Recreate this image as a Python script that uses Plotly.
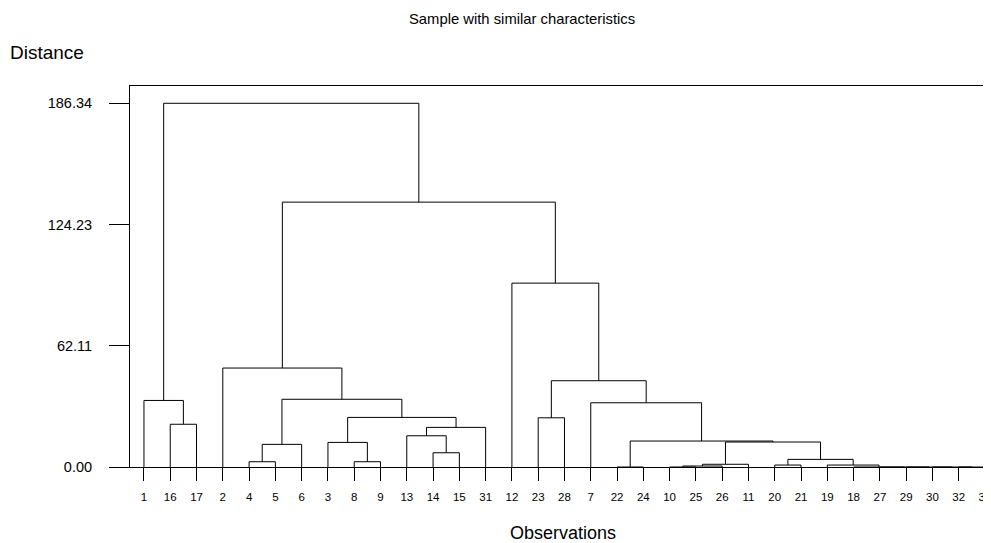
import plotly.graph_objects as go

# ---- data ----
leaf_order = ["1", "16", "17", "2", "4", "5", "6", "3", "8", "9", "13", "14", "15", "31",
              "12", "23", "28", "7", "22", "24", "10", "25", "26", "11", "20", "21", "19",
              "18", "27", "29", "30", "32", "33"]

# merges: node n<i> joins merge_left[i] and merge_right[i] at merge_height[i]
merge_left = ["16", "1", "4", "n2", "8", "3", "14", "13", "n7", "n5", "n3", "2",
              "23", "22", "10", "n14", "n15", "20", "32", "30", "29", "27", "18", "19",
              "n17", "n16", "n13", "7", "n12", "12", "n11", "n1"]
merge_right = ["17", "n0", "5", "6", "9", "n4", "15", "n6", "31", "n8", "n9", "n10",
               "28", "24", "25", "26", "11", "21", "33", "n18", "n19", "n20", "n21", "n22",
               "n23", "n24", "n25", "n26", "n27", "n28", "n29", "n30"]
merge_height = [21.9, 34.1, 2.7, 11.6, 2.7, 12.6, 7.3, 16.0, 20.3, 25.4, 34.7, 50.7,
                25.2, 0.0, 0.0, 0.5, 1.4, 1.0, 0.0, 0.0, 0.0, 0.0, 0.0, 1.0,
                3.9, 12.8, 13.3, 32.9, 44.2, 94.2, 135.7, 186.34]

y_tick_values = [0.00, 62.11, 124.23, 186.34]

title_text = "Sample with similar characteristics"
y_title = "Distance"
x_title = "Observations"

# ---- build dendrogram geometry from the tree ----
pos = {lab: i + 1 for i, lab in enumerate(leaf_order)}
hgt = {lab: 0.0 for lab in leaf_order}
xs, ys = [], []
for i, (a, b, h) in enumerate(zip(merge_left, merge_right, merge_height)):
    xa, xb = pos[a], pos[b]
    ha, hb = hgt[a], hgt[b]
    xs += [xa, xa, xb, xb, None]
    ys += [ha, h, h, hb, None]
    pos["n%d" % i] = (xa + xb) / 2.0
    hgt["n%d" % i] = h

FONT = "Liberation Sans, Arial, sans-serif"

# page has an 8px body margin: position everything relative to that
OFF = 8
PL, PT, PH = 130 - OFF, 86 - OFF, 381
W, H = 991 - OFF, 543 - OFF

fig = go.Figure()
fig.add_trace(go.Scatter(x=xs, y=ys, mode="lines",
                         line=dict(color="#000000", width=1),
                         hoverinfo="skip", showlegend=False, cliponaxis=False))

fig.update_layout(
    width=W, height=H,
    margin=dict(l=PL, r=0, t=PT, b=H - PT - PH, pad=0),
    paper_bgcolor="white", plot_bgcolor="white",
    font=dict(family=FONT, color="#000000"),
    showlegend=False,
)

fig.update_xaxes(
    range=[0.469, 33.114],
    tickmode="array",
    tickvals=list(range(1, len(leaf_order) + 1)),
    ticktext=leaf_order,
    ticks="outside", ticklen=13, tickwidth=1, tickcolor="#000000",
    tickfont=dict(size=11.5, family=FONT),
    ticklabelstandoff=6,
    ticklabeloverflow="allow",
    showline=True, linecolor="#000000", linewidth=1, mirror=True,
    showgrid=False, zeroline=False,
)

fig.update_yaxes(
    range=[0, 195.2],
    tickmode="array",
    tickvals=y_tick_values,
    ticktext=["%.2f" % v for v in y_tick_values],
    ticks="outside", ticklen=20, tickwidth=1, tickcolor="#000000",
    tickfont=dict(size=14.5, family=FONT),
    ticklabelstandoff=14,
    showline=True, linecolor="#000000", linewidth=1, mirror=False,
    showgrid=False, zeroline=False,
)

pw = 861.0
fig.add_annotation(text=title_text, xref="paper", yref="paper",
                   x=(523 - 130) / pw, y=(467 - 19.5) / PH,
                   xanchor="center", yanchor="middle", showarrow=False,
                   font=dict(size=14.8, family=FONT, color="#000000"))
fig.add_annotation(text=y_title, xref="paper", yref="paper",
                   x=(8 - 130) / pw, y=(467 - 52) / PH,
                   xanchor="left", yanchor="middle", showarrow=False,
                   font=dict(size=19, family=FONT, color="#000000"))
fig.add_annotation(text=x_title, xref="paper", yref="paper",
                   x=(565 - 130) / pw, y=(467 - 533) / PH,
                   xanchor="center", yanchor="middle", showarrow=False,
                   font=dict(size=18, family=FONT, color="#000000"))

fig.write_html("out.html")
